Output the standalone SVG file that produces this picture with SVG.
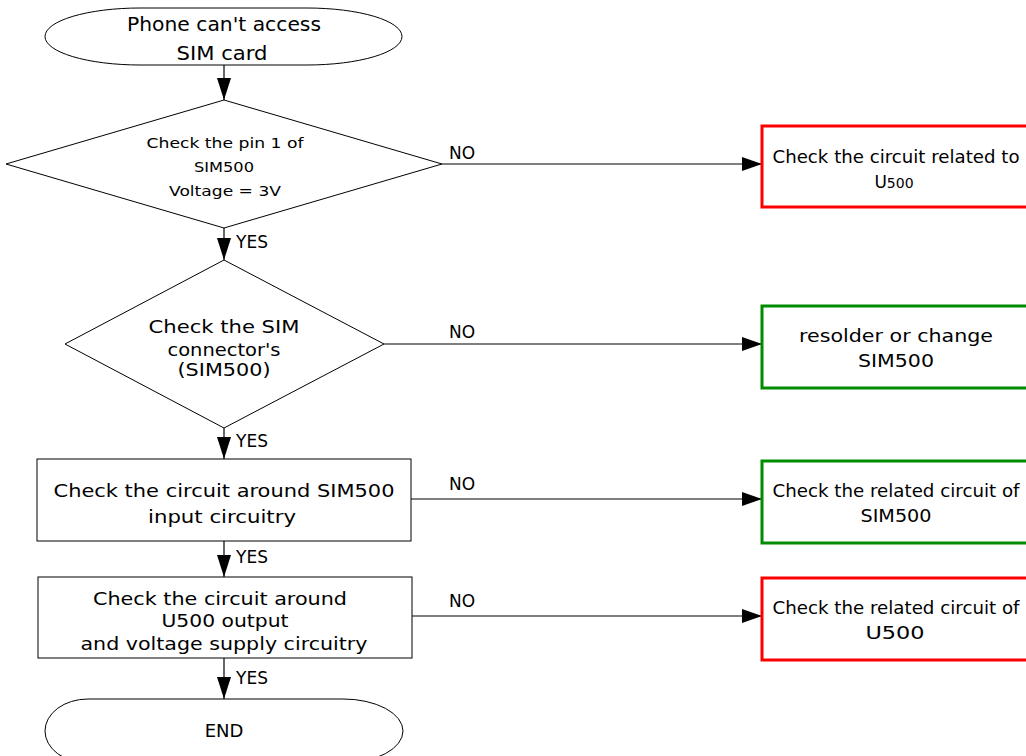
<svg xmlns="http://www.w3.org/2000/svg" width="1026" height="756" viewBox="0 0 1026 756">
<style>
text{font-family:"DejaVu Sans","Liberation Sans",sans-serif;fill:#000;text-anchor:middle}
.t19{font-size:19px}
.t18{font-size:18px}
.t17{font-size:17px}
.t14{font-size:14px}
.lbl{font-size:17px;text-anchor:start}
.shape{fill:#fff;stroke:#000;stroke-width:1}
.red{fill:#fff;stroke:#ff0000;stroke-width:3}
.green{fill:#fff;stroke:#008c00;stroke-width:3}
.conn{stroke:#000;stroke-width:1.2;fill:none}
</style>
<defs>
<marker id="ah" markerUnits="userSpaceOnUse" markerWidth="22" markerHeight="16" refX="20" refY="7" orient="auto">
<path d="M0,0 L20,7 L0,14 Z" fill="#000"/>
</marker>
<marker id="av" markerUnits="userSpaceOnUse" markerWidth="24" markerHeight="16" refX="22" refY="7" orient="auto">
<path d="M0,0 L22,7 L0,14 Z" fill="#000"/>
</marker>
</defs>
<rect width="1026" height="756" fill="#fff"/>

<g id="connectors">
<line class="conn" x1="224" y1="65" x2="224" y2="100" marker-end="url(#av)"/>
<line class="conn" x1="442" y1="164" x2="762" y2="164" marker-end="url(#ah)"/>
<line class="conn" x1="224" y1="228" x2="224" y2="260" marker-end="url(#av)"/>
<line class="conn" x1="384" y1="344" x2="762" y2="344" marker-end="url(#ah)"/>
<line class="conn" x1="224" y1="428" x2="224" y2="459" marker-end="url(#av)"/>
<line class="conn" x1="411" y1="499" x2="762" y2="499" marker-end="url(#ah)"/>
<line class="conn" x1="224" y1="541" x2="224" y2="577" marker-end="url(#av)"/>
<line class="conn" x1="412" y1="616" x2="762" y2="616" marker-end="url(#ah)"/>
<line class="conn" x1="224" y1="658" x2="224" y2="699" marker-end="url(#av)"/>
<text class="lbl" x="449" y="159">NO</text>
<text class="lbl" x="236" y="248">YES</text>
<text class="lbl" x="449" y="338">NO</text>
<text class="lbl" x="236" y="447">YES</text>
<text class="lbl" x="449" y="490">NO</text>
<text class="lbl" x="236" y="563">YES</text>
<text class="lbl" x="449" y="607">NO</text>
<text class="lbl" x="236" y="684">YES</text>
</g>

<g id="start">
<path class="shape" d="M140,8 L307,8 A95,28.5 0 0 1 307,65 L140,65 A95,28.5 0 0 1 140,8 Z"/>
<text class="t19" x="224" y="31" textLength="194" lengthAdjust="spacingAndGlyphs">Phone can't access</text>
<text class="t19" x="222" y="60" textLength="91" lengthAdjust="spacingAndGlyphs">SIM card</text>
</g>

<g id="check-pin1">
<polygon class="shape" points="224,100 442,164 224,228 6,164"/>
<text class="t14" x="225" y="148" textLength="157" lengthAdjust="spacingAndGlyphs">Check the pin 1 of</text>
<text class="t14" x="224" y="172" textLength="60" lengthAdjust="spacingAndGlyphs">SIM500</text>
<text class="t14" x="225" y="196" textLength="112" lengthAdjust="spacingAndGlyphs">Voltage = 3V</text>
</g>

<g id="u500-circuit">
<rect class="red" x="762" y="126" width="300" height="81"/>
<text class="t17" x="896" y="163" textLength="247" lengthAdjust="spacingAndGlyphs">Check the circuit related to</text>
<text class="t17" x="894" y="188">U<tspan style="font-size:14px">500</tspan></text>
</g>

<g id="check-connector">
<polygon class="shape" points="224,260 384,344 224,428 65,344"/>
<text class="t18" x="224" y="333" textLength="151" lengthAdjust="spacingAndGlyphs">Check the SIM</text>
<text class="t18" x="224" y="356" textLength="113" lengthAdjust="spacingAndGlyphs">connector's</text>
<text class="t18" x="224" y="376" textLength="93" lengthAdjust="spacingAndGlyphs">(SIM500)</text>
</g>

<g id="resolder">
<rect class="green" x="762" y="306" width="300" height="82"/>
<text class="t17" x="896" y="342" textLength="194" lengthAdjust="spacingAndGlyphs">resolder or change</text>
<text class="t17" x="896" y="367" textLength="76" lengthAdjust="spacingAndGlyphs">SIM500</text>
</g>

<g id="check-input">
<rect class="shape" x="37" y="459" width="374" height="82"/>
<text class="t18" x="224" y="497" textLength="341" lengthAdjust="spacingAndGlyphs">Check the circuit around SIM500</text>
<text class="t18" x="222" y="523" textLength="148" lengthAdjust="spacingAndGlyphs">input circuitry</text>
</g>

<g id="sim500-related">
<rect class="green" x="762" y="461" width="300" height="82"/>
<text class="t17" x="896" y="497" textLength="247" lengthAdjust="spacingAndGlyphs">Check the related circuit of</text>
<text class="t17" x="896" y="522" textLength="71" lengthAdjust="spacingAndGlyphs">SIM500</text>
</g>

<g id="check-output">
<rect class="shape" x="38" y="577" width="374" height="81"/>
<text class="t18" x="220" y="605" textLength="254" lengthAdjust="spacingAndGlyphs">Check the circuit around</text>
<text class="t18" x="225" y="627" textLength="127" lengthAdjust="spacingAndGlyphs">U500 output</text>
<text class="t18" x="224" y="650" textLength="287" lengthAdjust="spacingAndGlyphs">and voltage supply circuitry</text>
</g>

<g id="u500-related">
<rect class="red" x="762" y="578" width="300" height="82"/>
<text class="t17" x="896" y="614" textLength="247" lengthAdjust="spacingAndGlyphs">Check the related circuit of</text>
<text class="t17" x="895" y="639" textLength="59" lengthAdjust="spacingAndGlyphs">U500</text>
</g>

<g id="end">
<path class="shape" d="M88,699 L343,699 A60,32 0 0 1 343,763 L88,763 A43,32 0 0 1 88,699 Z"/>
<text class="t18" x="224" y="737">END</text>
</g>
</svg>
